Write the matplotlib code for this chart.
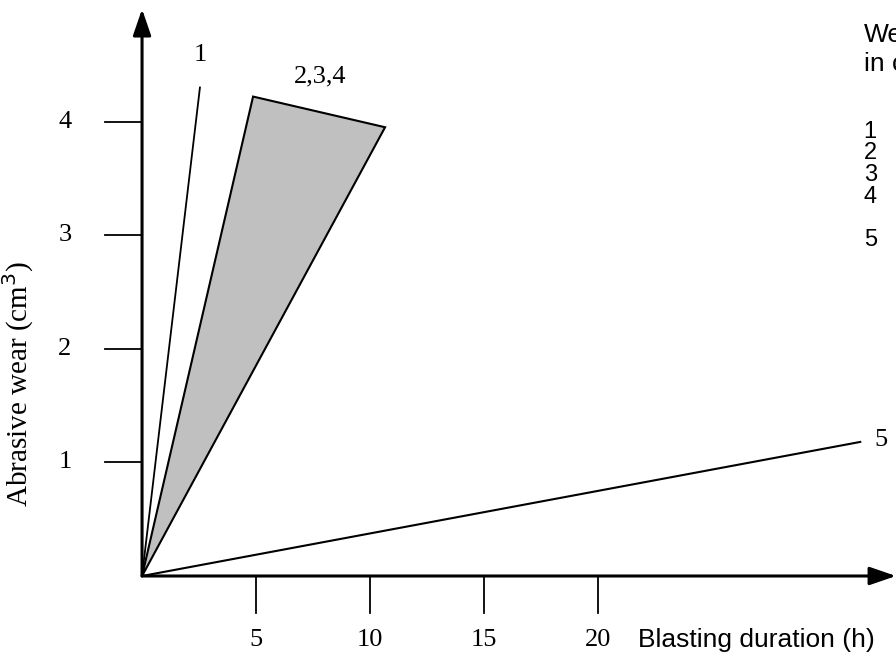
import matplotlib
matplotlib.use("Agg")
import matplotlib.pyplot as plt
from matplotlib.patches import Polygon

# Data
x_ticks = [5, 10, 15, 20]
y_ticks = [1, 2, 3, 4]
line1 = ([0, 2.54], [0, 4.30])
band_x = [0, 4.87, 10.66]
band_y = [0, 4.22, 3.95]
line5 = ([0, 31.5], [0, 1.18])
legend_items = ["1", "2", "3", "4", "5"]

fig = plt.figure(figsize=(8.96, 6.57), dpi=100)
ax = fig.add_axes([0, 0, 1, 1])
ax.set_xlim(-6.23, 33.07)
ax.set_ylim(-0.713, 5.07)
ax.axis("off")

serif = "Liberation Serif"
sans = "Liberation Sans"

# axes with arrows
ax.annotate("", xy=(0, 4.99), xytext=(0, 0),
            arrowprops=dict(arrowstyle="-|>,head_length=1.6,head_width=0.55", color="black", lw=2.2,
                            shrinkA=0, shrinkB=0), annotation_clip=False)
ax.annotate("", xy=(33.07, 0), xytext=(0, 0),
            arrowprops=dict(arrowstyle="-|>,head_length=1.6,head_width=0.55", color="black", lw=2.2,
                            shrinkA=0, shrinkB=0), annotation_clip=False)

# ticks
for t in x_ticks:
    ax.plot([t, t], [0, -0.325], color="black", lw=1.3)
    ax.text(t, -0.565, str(t), ha="center", va="center", fontsize=19, family=serif)
for t in y_ticks:
    ax.plot([-1.62, 0], [t, t], color="black", lw=1.3)
    ax.text(-3.38, t, str(t), ha="center", va="center", fontsize=19, family=serif)

# band 2,3,4
poly = Polygon(list(zip(band_x, band_y)), closed=True, facecolor="#c0c0c0",
               edgecolor="black", lw=1.5)
ax.add_patch(poly)

ax.plot(*line1, color="black", lw=1.3)
ax.plot(*line5, color="black", lw=1.5)

ax.text(2.54, 4.59, "1", ha="center", va="center", fontsize=19, family=serif)
ax.text(7.8, 4.40, "2,3,4", ha="center", va="center", fontsize=19, family=serif)
ax.text(32.4, 1.2, "5", ha="center", va="center", fontsize=19, family=serif)

# axis labels
ax.text(21.75, -0.565, "Blasting duration (h)", ha="left", va="center", fontsize=19, family=sans)
ax.text(-5.45, 1.69, "Abrasive wear (cm$^3$)", ha="center", va="center", rotation=90,
        fontsize=21, family=serif)

# right side legend text (cut off by figure edge, as in the reference)
ax.text(31.65, 4.76, "Wear", ha="left", va="center", fontsize=19, family=sans)
ax.text(31.65, 4.51, "in cm³", ha="left", va="center", fontsize=19, family=sans)
for lab, yy in zip(legend_items, [3.91, 3.72, 3.53, 3.34, 2.96]):
    ax.text(31.65, yy, lab, ha="left", va="center", fontsize=17, family=sans)

fig.savefig("out.png", dpi=100)
